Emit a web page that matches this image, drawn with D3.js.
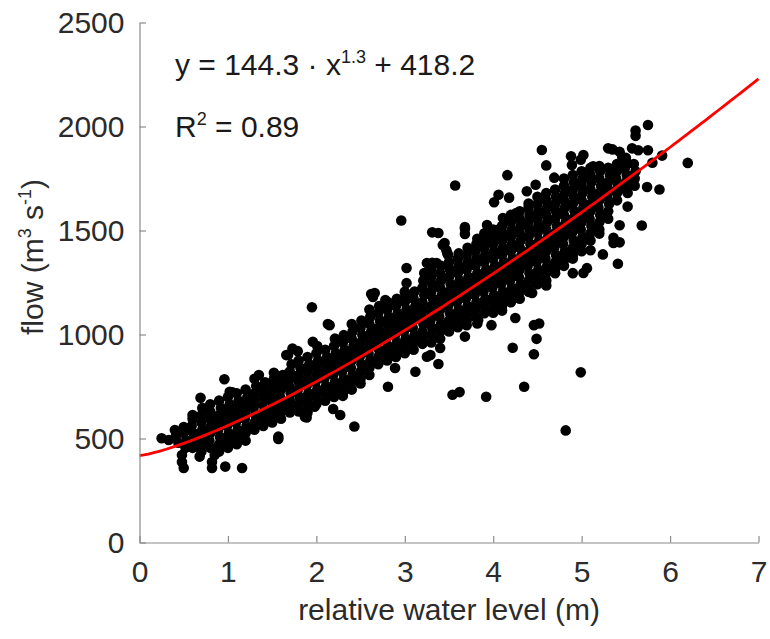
<!DOCTYPE html>
<html>
<head>
<meta charset="utf-8">
<script src="https://cdnjs.cloudflare.com/ajax/libs/d3/7.9.0/d3.min.js"></script>
<style>
  html, body { margin: 0; padding: 0; background: #fff; }
  svg { display: block; font-family: "Liberation Sans", Arial, sans-serif; }
  .axis path, .axis line { stroke: #8a8a8a; stroke-width: 1.2; }
  .axis text { fill: #2b2b2b; font-size: 30px; }
</style>
</head>
<body>
<svg id="chart" width="770" height="639"></svg>
<script>
// axis ticks
const xTicks = [0, 1, 2, 3, 4, 5, 6, 7];
const yTicks = [0, 500, 1000, 1500, 2000, 2500];

// fitted curve: y = a * x^b + c
const fitA = 144.3, fitB = 1.3, fitC = 418.2;
const fitR2 = 0.89;

// [relative water level (m), flow (m3 s-1)] — dense band
const bandReadings = [
  [0.60,455],[0.60,490],[0.61,525],[0.59,560],[0.60,595],
  [0.70,437],[0.70,472],[0.69,507],[0.71,542],[0.70,577],[0.70,612],[0.71,647],
  [0.80,455],[0.79,490],[0.80,525],[0.81,560],[0.80,595],[0.80,630],[0.80,665],
  [0.90,437],[0.90,472],[0.91,507],[0.89,542],[0.90,577],[0.90,612],[0.92,647],[0.90,682],
  [1.00,455],[1.00,490],[1.01,525],[0.99,560],[1.00,595],[1.00,630],[1.02,665],[1.00,700],
  [1.10,472],[1.10,507],[1.11,542],[1.09,577],[1.10,612],[1.10,647],[1.12,682],[1.10,717],
  [1.20,490],[1.20,525],[1.21,560],[1.19,595],[1.20,630],[1.20,665],[1.22,700],[1.20,735],
  [1.30,542],[1.30,577],[1.31,612],[1.29,647],[1.30,682],[1.30,717],[1.32,752],[1.30,787],
  [1.40,560],[1.40,595],[1.41,630],[1.39,665],[1.40,700],[1.40,735],[1.42,770],
  [1.50,577],[1.50,612],[1.51,647],[1.49,682],[1.50,717],[1.50,752],[1.52,787],
  [1.60,595],[1.60,630],[1.61,665],[1.59,700],[1.60,735],[1.60,770],[1.62,805],
  [1.70,647],[1.70,682],[1.71,717],[1.69,752],[1.70,787],[1.70,822],[1.72,857],
  [1.80,630],[1.80,665],[1.81,700],[1.79,735],[1.80,770],[1.80,805],[1.82,840],[1.80,875],
  [1.90,647],[1.90,682],[1.91,717],[1.89,752],[1.90,787],[1.90,822],[1.92,857],[1.90,892],
  [2.00,665],[2.00,700],[2.01,735],[1.99,770],[2.00,805],[2.00,840],[2.02,875],[2.00,910],[2.01,945],
  [2.10,682],[2.10,717],[2.11,752],[2.09,787],[2.10,822],[2.10,857],[2.12,892],[2.10,927],
  [2.20,700],[2.20,735],[2.21,770],[2.19,805],[2.20,840],[2.20,875],[2.22,910],[2.20,945],[2.21,980],
  [2.30,717],[2.30,752],[2.31,787],[2.29,822],[2.30,857],[2.30,892],[2.32,927],[2.30,962],[2.31,997],
  [2.40,735],[2.40,770],[2.41,805],[2.39,840],[2.40,875],[2.40,910],[2.42,945],[2.40,980],[2.41,1015],[2.40,1050],
  [2.50,787],[2.50,822],[2.51,857],[2.49,892],[2.50,927],[2.50,962],[2.52,997],[2.50,1032],[2.51,1067],
  [2.60,805],[2.60,840],[2.61,875],[2.59,910],[2.60,945],[2.60,980],[2.62,1015],[2.60,1050],[2.61,1085],[2.60,1120],
  [2.70,857],[2.70,892],[2.71,927],[2.69,962],[2.70,997],[2.70,1032],[2.72,1067],[2.70,1102],[2.71,1137],
  [2.80,875],[2.80,910],[2.81,945],[2.79,980],[2.80,1015],[2.80,1050],[2.82,1085],[2.80,1120],[2.81,1155],
  [2.90,892],[2.90,927],[2.91,962],[2.89,997],[2.90,1032],[2.90,1067],[2.92,1102],[2.90,1137],[2.91,1172],
  [3.00,910],[3.00,945],[3.01,980],[2.99,1015],[3.00,1050],[3.00,1085],[3.02,1120],[3.00,1155],[3.01,1190],
  [3.10,927],[3.10,962],[3.11,997],[3.09,1032],[3.10,1067],[3.10,1102],[3.12,1137],[3.10,1172],[3.11,1207],
  [3.20,980],[3.20,1015],[3.21,1050],[3.19,1085],[3.20,1120],[3.20,1155],[3.22,1190],[3.20,1225],[3.21,1260],
  [3.30,962],[3.30,997],[3.31,1032],[3.29,1067],[3.30,1102],[3.30,1137],[3.32,1172],[3.30,1207],[3.31,1242],[3.30,1277],[3.30,1312],
  [3.40,980],[3.40,1015],[3.41,1050],[3.39,1085],[3.40,1120],[3.40,1155],[3.42,1190],[3.40,1225],[3.41,1260],[3.40,1295],[3.41,1330],
  [3.50,1032],[3.50,1067],[3.51,1102],[3.49,1137],[3.50,1172],[3.50,1207],[3.52,1242],[3.50,1277],[3.51,1312],[3.50,1347],[3.49,1382],
  [3.60,1050],[3.60,1085],[3.61,1120],[3.59,1155],[3.60,1190],[3.60,1225],[3.62,1260],[3.60,1295],[3.61,1330],[3.60,1365],
  [3.70,1067],[3.70,1102],[3.71,1137],[3.69,1172],[3.70,1207],[3.70,1242],[3.72,1277],[3.70,1312],[3.71,1347],[3.70,1382],[3.71,1417],
  [3.80,1085],[3.80,1120],[3.81,1155],[3.79,1190],[3.80,1225],[3.80,1260],[3.82,1295],[3.80,1330],[3.81,1365],[3.80,1400],[3.81,1435],
  [3.90,1102],[3.90,1137],[3.91,1172],[3.89,1207],[3.90,1242],[3.90,1277],[3.92,1312],[3.90,1347],[3.91,1382],[3.90,1417],[3.91,1452],[3.90,1487],
  [4.00,1120],[4.00,1155],[4.01,1190],[3.99,1225],[4.00,1260],[4.00,1295],[4.02,1330],[4.00,1365],[4.01,1400],[4.00,1435],[4.01,1470],[4.00,1505],
  [4.10,1137],[4.10,1172],[4.11,1207],[4.09,1242],[4.10,1277],[4.10,1312],[4.12,1347],[4.10,1382],[4.11,1417],[4.10,1452],[4.11,1487],[4.10,1522],
  [4.20,1155],[4.20,1190],[4.21,1225],[4.19,1260],[4.20,1295],[4.20,1330],[4.22,1365],[4.20,1400],[4.21,1435],[4.20,1470],[4.21,1505],[4.20,1540],[4.20,1575],
  [4.30,1172],[4.30,1207],[4.31,1242],[4.29,1277],[4.30,1312],[4.30,1347],[4.32,1382],[4.30,1417],[4.31,1452],[4.30,1487],[4.31,1522],[4.30,1557],[4.30,1592],
  [4.40,1225],[4.40,1260],[4.41,1295],[4.39,1330],[4.40,1365],[4.40,1400],[4.42,1435],[4.40,1470],[4.41,1505],[4.40,1540],[4.41,1575],[4.40,1610],
  [4.50,1242],[4.50,1277],[4.51,1312],[4.49,1347],[4.50,1382],[4.50,1417],[4.52,1452],[4.50,1487],[4.51,1522],[4.50,1557],[4.51,1592],[4.50,1627],[4.50,1662],
  [4.60,1260],[4.60,1295],[4.61,1330],[4.59,1365],[4.60,1400],[4.60,1435],[4.62,1470],[4.60,1505],[4.61,1540],[4.60,1575],[4.61,1610],[4.60,1645],[4.60,1680],
  [4.70,1312],[4.70,1347],[4.71,1382],[4.69,1417],[4.70,1452],[4.70,1487],[4.72,1522],[4.70,1557],[4.71,1592],[4.70,1627],[4.71,1662],[4.70,1697],
  [4.80,1330],[4.80,1365],[4.81,1400],[4.79,1435],[4.80,1470],[4.80,1505],[4.82,1540],[4.80,1575],[4.81,1610],[4.80,1645],[4.81,1680],[4.80,1715],[4.80,1750],
  [4.90,1382],[4.90,1417],[4.91,1452],[4.89,1487],[4.90,1522],[4.90,1557],[4.92,1592],[4.90,1627],[4.91,1662],[4.90,1697],[4.91,1732],[4.90,1767],
  [5.00,1400],[5.00,1435],[5.01,1470],[4.99,1505],[5.00,1540],[5.00,1575],[5.02,1610],[5.00,1645],[5.01,1680],[5.00,1715],[5.01,1750],[5.00,1785],
  [5.10,1452],[5.10,1487],[5.11,1522],[5.09,1557],[5.10,1592],[5.10,1627],[5.12,1662],[5.10,1697],[5.11,1732],[5.10,1767],[5.10,1802],
  [5.20,1505],[5.20,1540],[5.21,1575],[5.19,1610],[5.20,1645],[5.20,1680],[5.22,1715],[5.20,1750],[5.21,1785],
  [5.30,1557],[5.30,1592],[5.31,1627],[5.29,1662],[5.30,1697],[5.30,1732],[5.32,1767],[5.30,1802],
  [5.40,1645],[5.40,1680],[5.41,1715],[5.39,1750],[5.40,1785],[5.40,1820],
  [5.50,1697],[5.50,1732],[5.51,1767],[5.49,1802],[5.50,1837],
  [5.60,1715],[5.60,1750],[5.61,1785],[5.59,1820]
];

// loose points at the band edges and outliers
const strayReadings = [
  [0.25,501],[0.33,493],[0.40,541],[0.41,510],[0.44,480],
  [0.50,526],[0.48,421],[0.48,387],[0.50,358],[0.52,455],[0.53,490],[0.55,545],[0.50,555],
  [0.60,613],[0.63,470],[0.68,413],[0.69,696],[0.72,640],[0.82,358],[0.82,387],[0.85,421],
  [0.97,365],[1.02,725],[1.05,722],[0.96,785],[1.16,358],[1.25,695],[1.35,805],[1.52,816],
  [1.57,498],[1.57,509],[1.64,805],[1.70,625],[1.66,901],[1.68,902],[1.73,933],[1.79,920],
  [1.87,605],[1.90,625],[1.89,601],[1.95,1131],[1.96,965],[1.98,653],[2.13,1050],[2.15,1045],
  [2.19,642],[2.27,613],[2.30,705],[2.43,558],[2.50,765],[2.62,1195],[2.66,1199],[2.64,1180],
  [2.78,1166],[2.85,1142],[2.81,749],[2.89,839],[3.00,1206],[3.02,1247],[3.02,1320],[2.96,1548],
  [3.12,821],[3.20,955],[3.22,1296],[3.23,1271],[3.25,1344],[3.31,1345],[3.36,1344],[3.31,1491],
  [3.38,1488],[3.25,893],[3.29,901],[3.38,858],[3.40,935],[3.43,1430],[3.45,1440],[3.47,1405],
  [3.48,1392],[3.50,1015],[3.54,710],[3.60,1035],[3.61,1390],[3.57,1716],[3.62,723],[3.70,1045],
  [3.68,1508],[3.68,1483],[3.68,1517],[3.68,990],[3.82,1460],[3.82,1053],[3.83,1070],[3.92,701],
  [3.93,1526],[3.95,1478],[4.00,1105],[3.98,1045],[4.01,1636],[4.04,1502],[4.10,1115],[4.11,1560],
  [4.06,1672],[4.18,1658],[4.16,1766],[4.22,936],[4.26,1584],[4.25,1079],[4.35,749],[4.40,1205],
  [4.40,1630],[4.38,1689],[4.44,1200],[4.48,1720],[4.55,1887],[4.46,905],[4.49,979],[4.46,1045],
  [4.52,1053],[4.60,1236],[4.60,1813],[4.70,1295],[4.69,1754],[4.82,539],[4.85,1371],[4.90,1365],
  [4.88,1857],[4.89,1815],[4.90,1295],[4.99,1840],[5.02,1863],[4.99,818],[5.02,1296],[5.13,1809],
  [5.10,1405],[5.06,1319],[5.20,1485],[5.20,1810],[5.24,1385],[5.30,1895],[5.35,1890],[5.36,1465],
  [5.36,1440],[5.43,1878],[5.46,1852],[5.41,1340],[5.43,1525],[5.43,1443],[5.52,1743],[5.52,1680],
  [5.52,1615],[5.50,1850],[5.57,1895],[5.64,1886],[5.61,1981],[5.61,1955],[5.68,1524],[5.74,1709],
  [5.75,1886],[5.75,2007],[5.80,1826],[5.88,1697],[5.91,1860],[6.20,1825]
];

const readings = bandReadings.concat(strayReadings);

const svg = d3.select('#chart');
const W = 770, H = 639;
const m = { left: 139.5, right: 11.5, top: 22.5, bottom: 96.5 };

const x = d3.scaleLinear().domain([0, 7]).range([m.left, W - m.right]);
const y = d3.scaleLinear().domain([0, 2500]).range([H - m.bottom, m.top]);

// points
svg.append('g').selectAll('circle').data(readings).join('circle')
  .attr('cx', d => x(d[0])).attr('cy', d => y(d[1]))
  .attr('r', 5.3).attr('fill', '#000');

// fit line
const curve = d3.range(0, 7.001, 0.05).map(v => [v, fitA * Math.pow(v, fitB) + fitC]);
svg.append('path').datum(curve)
  .attr('fill', 'none').attr('stroke', '#ff0000').attr('stroke-width', 2.8)
  .attr('d', d3.line().x(d => x(d[0])).y(d => y(d[1])));

// axes, ticks pointing inward
svg.append('g').attr('class', 'axis')
  .attr('transform', `translate(0,${y(0)})`)
  .call(d3.axisBottom(x).tickValues(xTicks).tickFormat(d3.format('d'))
    .tickSizeInner(-6.5).tickSizeOuter(0).tickPadding(18));

svg.append('g').attr('class', 'axis')
  .attr('transform', `translate(${x(0)},0)`)
  .call(d3.axisLeft(y).tickValues(yTicks).tickFormat(d3.format('d'))
    .tickSizeInner(-6.5).tickSizeOuter(0).tickPadding(15));

svg.selectAll('.axis text').attr('font-family', null);

// axis titles
svg.append('text')
  .attr('x', x(3.5)).attr('y', 620)
  .attr('text-anchor', 'middle').attr('fill', '#2b2b2b').attr('font-size', 30)
  .text('relative water level (m)');

const yl = svg.append('text')
  .attr('transform', 'translate(43,257) rotate(-90)')
  .attr('text-anchor', 'middle').attr('fill', '#2b2b2b').attr('font-size', 30);
yl.append('tspan').text('flow (m');
yl.append('tspan').attr('font-size', 18).attr('dy', -12).text('3');
yl.append('tspan').attr('dy', 12).text(' s');
yl.append('tspan').attr('font-size', 18).attr('dy', -12).text('-1');
yl.append('tspan').attr('dy', 12).text(')');

// equation and R2
const eq = svg.append('text')
  .attr('x', 175).attr('y', 75).attr('fill', '#1a1a1a').attr('font-size', 30);
eq.append('tspan').text(`y = ${fitA} · x`);
eq.append('tspan').attr('font-size', 18).attr('dy', -12).text(fitB);
eq.append('tspan').attr('dy', 12).text(` + ${fitC}`);

const r2 = svg.append('text')
  .attr('x', 175).attr('y', 137).attr('fill', '#1a1a1a').attr('font-size', 30);
r2.append('tspan').text('R');
r2.append('tspan').attr('font-size', 18).attr('dy', -12).text('2');
r2.append('tspan').attr('dy', 12).text(` = ${fitR2}`);
</script>
</body>
</html>
